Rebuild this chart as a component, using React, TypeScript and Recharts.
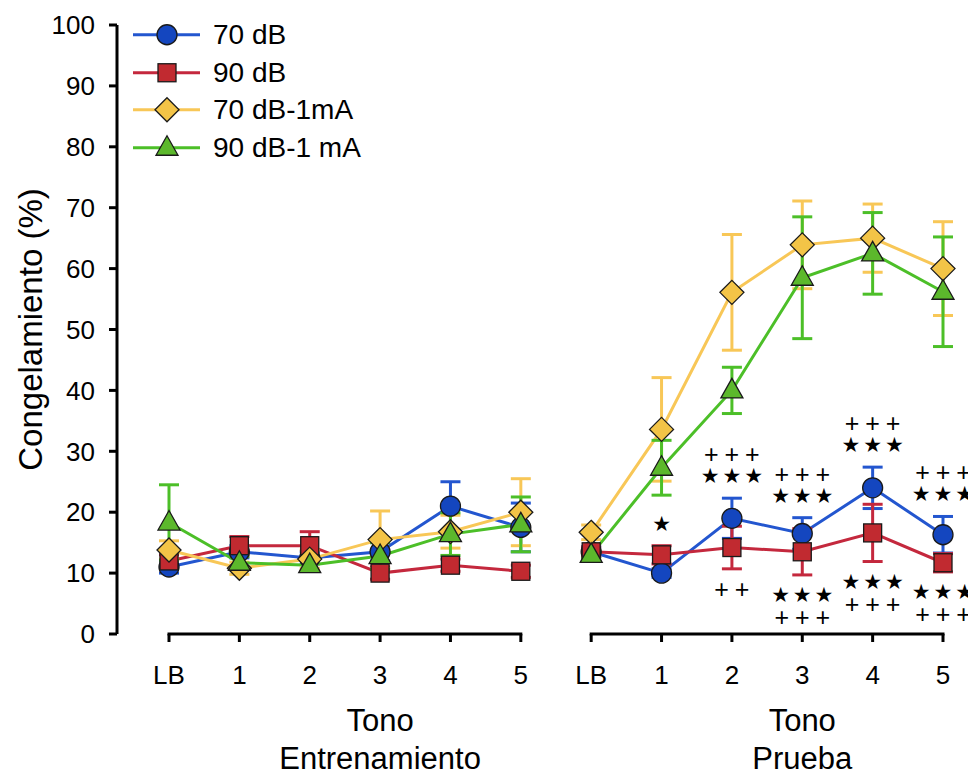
import React from 'react';
import { LineChart, Line, XAxis, YAxis, ErrorBar, ReferenceLine, ReferenceDot } from 'recharts';

const FONT = '"Liberation Sans", Arial, Helvetica, sans-serif';
const PLOT_TOP = 17;
const PLOT_BOTTOM = 626;

// categories: tone index within each phase
const toneLabels = ['LB', '1', '2', '3', '4', '5'];
const phaseKeys = ['e', 'p'];
const phaseTitles = ['Entrenamiento', 'Prueba'];
const yTicks = [0, 10, 20, 30, 40, 50, 60, 70, 80, 90, 100];

// % freezing (mean and SEM)
const blueTrain = [11, 13.5, 12.5, 13.5, 21, 17.5];
const blueTrainErr = [1, 1, 1, 1.5, 4, 4];
const blueTest = [13.5, 10, 19, 16.5, 24, 16.3];
const blueTestErr = [0.8, 0.7, 3.3, 2.6, 3.4, 3];

const redTrain = [12, 14.5, 14.5, 10, 11.3, 10.3];
const redTrainErr = [1, 1.5, 2.3, 1, 1, 1];
const redTest = [13.5, 13, 14.2, 13.5, 16.6, 11.7];
const redTestErr = [0.8, 1.5, 3.5, 3.8, 4.7, 1.5];

const yellowTrain = [13.8, 10.8, 12.3, 15.5, 16.8, 20];
const yellowTrainErr = [1.5, 1, 1.5, 4.7, 2.7, 5.5];
const yellowTest = [16.7, 33.6, 56.1, 63.9, 65, 60];
const yellowTestErr = [1.2, 8.5, 9.5, 7.2, 5.6, 7.7];

const greenTrain = [18.3, 11.7, 11.3, 12.8, 16.4, 18];
const greenTrainErr = [6.2, 1, 1, 2.2, 3.5, 4.5];
const greenTest = [13, 27.3, 40, 58.5, 62.5, 56.2];
const greenTestErr = [0.6, 4.5, 3.8, 10, 6.7, 9];

// significance marks in the test phase (nearest to the data first)
const sigAbove = [[], ['★'], ['★★★', '+++'], ['★★★', '+++'], ['★★★', '+++'], ['★★★', '+++']];
const sigBelow = [[], [], ['++'], ['★★★', '+++'], ['★★★', '+++'], ['★★★', '+++']];

const series = [
  { key: 'blue', name: '70 dB', shape: 'circle', color: '#2356cf', fill: '#1446bf', vals: [blueTrain, blueTest], errs: [blueTrainErr, blueTestErr] },
  { key: 'red', name: '90 dB', shape: 'square', color: '#c4283d', fill: '#c12a30', vals: [redTrain, redTest], errs: [redTrainErr, redTestErr] },
  { key: 'yellow', name: '70 dB-1mA', shape: 'diamond', color: '#f8c757', fill: '#f3c447', vals: [yellowTrain, yellowTest], errs: [yellowTrainErr, yellowTestErr] },
  { key: 'green', name: '90 dB-1 mA', shape: 'triangle', color: '#4cbf28', fill: '#5cb82c', vals: [greenTrain, greenTest], errs: [greenTrainErr, greenTestErr] },
];

const data: any[] = [];
phaseKeys.forEach((ph, p) => {
  toneLabels.forEach((label, i) => {
    const row: any = { cat: ph + i, label };
    series.forEach((s) => {
      row[`${s.key}_${ph}`] = s.vals[p][i];
      row[`${s.key}_${ph}_err`] = s.errs[p][i];
    });
    data.push(row);
  });
});

const Marker = ({ shape, cx, cy, fill }: any) => {
  if (cx == null || cy == null || isNaN(cx) || isNaN(cy)) return null;
  const st = { fill, stroke: '#1a1a1a', strokeWidth: 1.3 };
  if (shape === 'circle') return <circle cx={cx} cy={cy} r={10} {...st} />;
  if (shape === 'square') return <rect x={cx - 9} y={cy - 9} width={18} height={18} {...st} />;
  if (shape === 'diamond')
    return <polygon points={`${cx},${cy - 12} ${cx + 12},${cy} ${cx},${cy + 12} ${cx - 12},${cy}`} {...st} />;
  return <polygon points={`${cx},${cy - 12} ${cx + 11},${cy + 7.5} ${cx - 11},${cy + 7.5}`} {...st} />;
};

const XTick = ({ x, payload }: any) => {
  const cat: string = payload.value;
  const p = phaseKeys.indexOf(cat[0]);
  const i = Number(cat.slice(1));
  return (
    <g fontFamily={FONT} fill="#000">
      <text x={x} y={PLOT_BOTTOM + 41} textAnchor="middle" dominantBaseline="central" fontSize={26}>
        {toneLabels[i]}
      </text>
      {i === 3 && (
        <>
          <text x={x} y={PLOT_BOTTOM + 86} textAnchor="middle" dominantBaseline="central" fontSize={31}>
            Tono
          </text>
          <text x={x} y={PLOT_BOTTOM + 124} textAnchor="middle" dominantBaseline="central" fontSize={31}>
            {phaseTitles[p]}
          </text>
        </>
      )}
    </g>
  );
};

const YTitle = ({ viewBox }: any) => {
  const cx = viewBox.x + 22;
  const cy = viewBox.y + viewBox.height / 2;
  return (
    <text x={cx} y={cy} transform={`rotate(-90 ${cx} ${cy})`} textAnchor="middle" dominantBaseline="central"
      fontSize={33} fontFamily={FONT} fill="#000">
      Congelamiento (%)
    </text>
  );
};

const SigStack = ({ cx, cy, rows, dir }: any) => {
  if (cx == null || cy == null) return null;
  return (
    <g fill="#000">
      {rows.map((row: string, k: number) => {
        const yy = dir < 0 ? cy - 22 - 22 * k : cy + 20 + 22 * k;
        const star = row[0] === '★';
        const size = star ? 21 : 25;
        const spacing = 20.5 - size * (star ? 0.838 : 0.584);
        return (
          <text key={k} x={cx} dx={spacing / 2} y={yy} textAnchor="middle" dominantBaseline="central"
            letterSpacing={spacing} fontSize={size}
            fontFamily={star ? '"DejaVu Sans", sans-serif' : FONT}>
            {row}
          </text>
        );
      })}
    </g>
  );
};

const LegendBox = () => (
  <div style={{ position: 'absolute', left: 125, top: 8, fontFamily: FONT, fontSize: 28, color: '#000' }}>
    {series.map((s) => (
      <div key={s.key} style={{ display: 'flex', alignItems: 'center', height: 37.5 }}>
        <svg width={67} height={37.5} style={{ display: 'block' }}>
          <line x1={0} x2={67} y1={18.75} y2={18.75} stroke={s.color} strokeWidth={3} />
          <Marker shape={s.shape} cx={34} cy={18.75} fill={s.fill} />
        </svg>
        <span style={{ marginLeft: 13, lineHeight: '37.5px' }}>{s.name}</span>
      </div>
    ))}
  </div>
);

export default function App() {
  return (
    <div style={{ position: 'relative', width: 968, height: 768, background: '#fff' }}>
      <LineChart width={968} height={768} data={data}
        margin={{ top: PLOT_TOP, right: 13, bottom: 0, left: 0 }}>
        <XAxis dataKey="cat" type="category" interval={0} height={768 - PLOT_BOTTOM} padding={{ left: 52, right: 20 }}
          axisLine={false} tickSize={8} tickLine={{ stroke: '#000', strokeWidth: 3 }} tick={<XTick />} />
        <YAxis domain={[0, 100]} ticks={yTicks} interval={0} width={109} tickSize={8} tickMargin={14}
          axisLine={{ stroke: '#000', strokeWidth: 3 }} tickLine={{ stroke: '#000', strokeWidth: 3 }}
          tick={{ fill: '#000', fontSize: 26, fontFamily: FONT }} label={<YTitle />} />
        {phaseKeys.map((ph) => (
          <ReferenceLine key={`axis-${ph}`} segment={[{ x: ph + '0', y: 0 }, { x: ph + '5', y: 0 }]}
            stroke="#000" strokeWidth={3} strokeLinecap="square" ifOverflow="visible" />
        ))}
        {phaseKeys.flatMap((ph) =>
          series.map((s) => (
            <Line key={`${s.key}_${ph}`} dataKey={`${s.key}_${ph}`} name={s.name} stroke={s.color} strokeWidth={3}
              isAnimationActive={false} activeDot={false} legendType="none"
              dot={(p: any) => <Marker key={`${s.key}_${ph}_${p.index}`} shape={s.shape} cx={p.cx} cy={p.cy} fill={s.fill} />}>
              <ErrorBar dataKey={`${s.key}_${ph}_err`} direction="y" width={10} strokeWidth={3} stroke={s.color} />
            </Line>
          ))
        )}
        {toneLabels.map((_, i) =>
          sigAbove[i].length ? (
            <ReferenceDot key={`above-${i}`} x={'p' + i} r={0} ifOverflow="visible"
              y={Math.max(blueTest[i] + blueTestErr[i], redTest[i] + redTestErr[i])}
              shape={(p: any) => <SigStack cx={p.cx} cy={p.cy} rows={sigAbove[i]} dir={-1} />} />
          ) : null
        )}
        {toneLabels.map((_, i) =>
          sigBelow[i].length ? (
            <ReferenceDot key={`below-${i}`} x={'p' + i} r={0} ifOverflow="visible"
              y={Math.min(blueTest[i] - blueTestErr[i], redTest[i] - redTestErr[i])}
              shape={(p: any) => <SigStack cx={p.cx} cy={p.cy} rows={sigBelow[i]} dir={1} />} />
          ) : null
        )}
      </LineChart>
      <LegendBox />
    </div>
  );
}
